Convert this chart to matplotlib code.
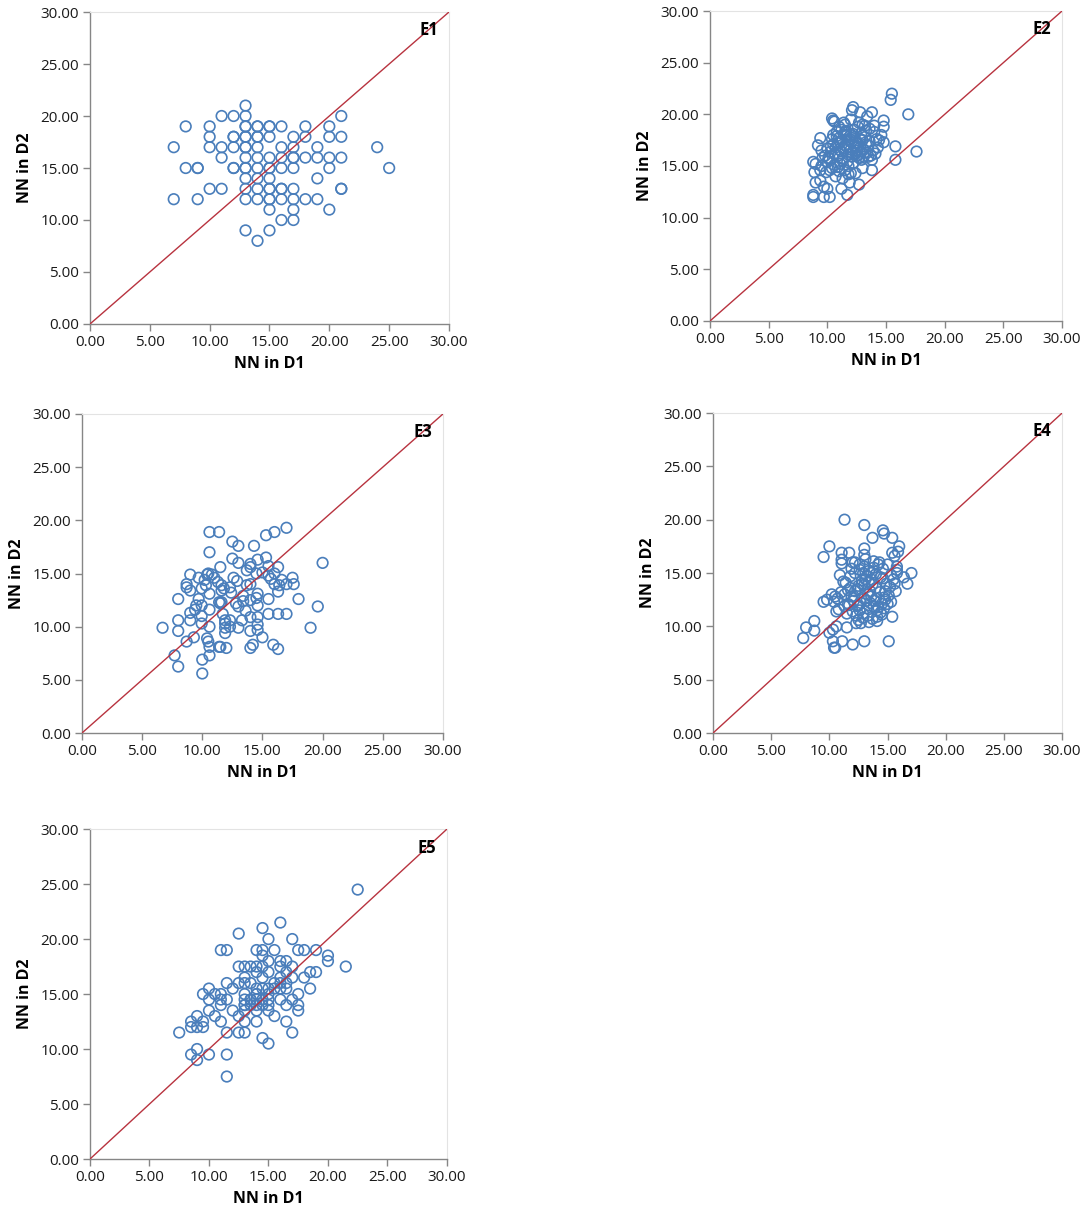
import matplotlib.pyplot as plt
from matplotlib.ticker import MultipleLocator, FormatStrFormatter

# ---- data ----
e1_x = [13,
        11, 12, 13, 21,
        8, 10, 13, 14, 15, 16, 18, 20,
        10, 12, 13, 14, 15, 17, 18, 20, 21,
        7, 10, 11, 12, 13, 14, 16, 17, 19, 24,
        11, 13, 14, 15, 16, 17, 18, 19, 20, 21,
        8, 9, 12, 13, 14, 15, 16, 17, 20, 25,
        13, 14, 15, 19,
        10, 11, 13, 14, 15, 16, 17, 21,
        7, 9, 13, 14, 15, 16, 17, 18, 19,
        15, 17, 20,
        16, 17,
        13, 15,
        14,
        13, 14, 15, 13, 14, 12, 13, 15, 17, 9, 12, 13, 15, 15, 16, 21]
e1_y = [21,
        20, 20, 20, 20,
        19, 19, 19, 19, 19, 19, 19, 19,
        18, 18, 18, 18, 18, 18, 18, 18, 18,
        17, 17, 17, 17, 17, 17, 17, 17, 17, 17,
        16, 16, 16, 16, 16, 16, 16, 16, 16, 16,
        15, 15, 15, 15, 15, 15, 15, 15, 15, 15,
        14, 14, 14, 14,
        13, 13, 13, 13, 13, 13, 13, 13,
        12, 12, 12, 12, 12, 12, 12, 12, 12,
        11, 11, 11,
        10, 10,
        9, 9,
        8,
        19, 19, 19, 18, 18, 18, 17, 13, 16, 15, 15, 15, 15, 12, 13, 13]

e2_x = [15.5, 15.4, 16.9, 17.6, 15.8, 15.8, 13.8, 12.7, 11.7, 11.2,
        8.8, 8.8, 9.7, 10.2, 9.7, 10.0, 9.0, 9.4, 8.9, 9.4,
        9.9, 8.8, 9.0, 9.5, 10.0, 10.4, 10.2, 11.0, 11.5, 11.8,
        12.0, 12.4, 9.2, 9.4, 9.5, 9.8, 10.1, 10.3, 10.5, 10.6,
        10.4, 10.5, 10.8, 10.4, 10.5, 10.6, 11.0, 11.2, 11.5, 11.6,
        12.2, 12.1, 12.8, 13.8, 13.4, 14.8, 14.8, 14.6, 14.8, 14.2,
        14.0, 13.6, 13.2, 13.5, 13.9, 14.3, 13.7, 13.8, 12.0, 11.9,
        12.3, 12.5, 12.6, 13.0, 12.9, 11.8, 11.4, 11.1, 10.9, 11.3,
        11.7, 12.1, 12.4, 12.7, 13.1, 13.3, 12.2, 11.6, 11.0, 10.7,
        11.2, 11.5, 11.9, 12.3, 12.6, 12.9, 13.2, 13.6, 12.0, 11.4,
        10.8, 11.1, 11.8, 12.2, 12.5, 12.8, 13.1, 13.4, 10.9, 11.3,
        11.6, 12.0, 12.4, 12.7, 13.0, 11.0, 11.5, 12.1, 12.6, 10.6,
        10.2, 10.0, 10.7, 11.3, 11.9, 12.9, 13.5, 14.1, 14.4, 13.0,
        12.3, 11.7, 10.3, 9.6, 10.9, 12.1, 12.8, 13.3, 14.0, 12.5]
e2_y = [22.0, 21.4, 20.0, 16.4, 16.9, 15.6, 14.6, 13.2, 12.2, 12.8,
        12.0, 12.2, 12.0, 12.0, 13.0, 12.8, 13.4, 13.6, 14.4, 14.6,
        14.4, 15.4, 15.2, 15.0, 15.4, 14.8, 15.7, 14.5, 14.6, 14.2,
        14.3, 14.3, 17.0, 17.7, 16.5, 16.0, 15.8, 16.4, 17.1, 16.2,
        17.6, 18.0, 18.3, 19.6, 19.4, 19.3, 18.8, 18.5, 19.0, 18.0,
        20.7, 20.4, 20.2, 20.2, 19.8, 19.4, 18.8, 18.0, 17.3, 17.6,
        18.3, 18.6, 18.9, 17.0, 16.5, 16.8, 16.0, 15.6, 16.6, 17.4,
        17.8, 16.9, 17.2, 17.5, 16.4, 16.1, 16.7, 17.3, 16.0, 15.7,
        15.4, 15.9, 16.2, 15.8, 16.6, 17.1, 18.1, 18.4, 17.7, 16.8,
        16.4, 17.0, 17.6, 18.5, 18.8, 18.2, 17.8, 17.4, 19.5, 19.2,
        17.9, 15.2, 15.0, 15.3, 16.5, 16.8, 15.9, 16.3, 14.9, 15.5,
        17.9, 18.0, 17.3, 19.2, 19.0, 16.6, 18.3, 16.3, 16.0, 15.1,
        14.6, 16.7, 14.0, 13.8, 13.4, 15.6, 15.9, 16.2, 17.5, 14.8,
        17.0, 16.8, 16.9, 15.8, 17.2, 17.7, 17.6, 18.4, 18.9, 16.0]

e3_x = [6.7, 7.7, 8.0, 8.0, 8.0, 8.0, 8.7, 8.7, 8.7, 9.0,
        9.0, 9.0, 9.0, 9.3, 9.5, 9.7, 9.7, 9.95, 9.95, 9.95,
        9.95, 10.0, 10.0, 10.2, 10.3, 10.4, 10.5, 10.6, 10.6, 11.4,
        11.5, 10.4, 10.5, 10.6, 10.6, 11.4, 12.0, 11.5, 10.6, 10.6,
        10.6, 11.0, 11.3, 11.6, 11.6, 11.6, 11.7, 11.4, 11.5, 11.9,
        11.9, 11.9, 11.9, 12.3, 12.3, 12.5, 12.5, 13.0, 13.0, 12.6,
        12.9, 12.3, 12.4, 13.0, 13.0, 13.3, 13.4, 13.4, 13.7, 14.0,
        14.0, 14.0, 13.7, 14.3, 14.0, 14.0, 14.2, 14.0, 14.0, 14.5,
        14.5, 14.6, 14.6, 14.6, 14.6, 14.6, 15.0, 14.6, 15.3, 15.3,
        15.5, 15.5, 15.7, 15.5, 15.5, 16.0, 16.0, 16.0, 15.9, 16.3,
        16.3, 16.3, 16.4, 16.3, 17.0, 17.0, 17.0, 17.5, 17.6, 18.0,
        19.0, 19.6, 20.0, 16.6, 10.8, 11.8, 12.8, 13.6, 15.0, 9.4]
e3_y = [9.9, 7.3, 6.25, 12.6, 10.6, 9.6, 14.0, 13.7, 8.6, 14.9,
        13.4, 11.3, 10.6, 9.0, 12.0, 14.6, 12.6, 13.6, 12.0, 11.0,
        10.3, 6.9, 5.6, 14.4, 13.9, 14.9, 15.0, 17.0, 18.9, 18.9,
        15.6, 8.9, 8.6, 8.1, 7.3, 8.1, 8.0, 8.1, 13.1, 11.6,
        10.0, 14.6, 14.2, 13.9, 13.4, 12.3, 11.2, 12.3, 12.2, 10.6,
        10.3, 9.9, 9.4, 10.0, 10.6, 18.0, 16.4, 17.6, 16.0, 14.6,
        14.3, 13.7, 13.2, 11.9, 9.9, 10.6, 12.9, 12.4, 13.9, 14.0,
        15.9, 15.6, 15.3, 17.6, 9.6, 8.0, 8.3, 12.5, 10.9, 15.0,
        12.7, 13.1, 12.0, 10.9, 10.2, 9.7, 9.0, 16.3, 18.6, 16.5,
        15.7, 14.8, 14.5, 12.6, 11.2, 18.9, 15.0, 14.0, 8.3, 7.9,
        15.6, 13.3, 13.9, 11.2, 19.3, 11.2, 14.0, 14.6, 14.0, 12.6,
        9.9, 11.9, 16.0, 14.4, 14.9, 13.6, 12.2, 11.5, 15.1, 11.6]

e4_x = [7.75, 8.0, 8.7, 8.7, 9.5, 9.5, 9.8, 10.0, 10.0, 10.3,
        10.3, 10.4, 10.5, 10.6, 11.05, 11.05, 11.05, 11.1, 11.3, 11.7,
        12.0, 12.0, 13.0, 13.0, 13.0, 13.0, 13.7, 14.6, 14.7, 15.4,
        16.0, 15.9, 15.4, 15.6, 15.8, 15.8, 15.8, 15.1, 15.4, 17.05,
        16.7, 16.4, 15.7, 14.1, 12.3, 11.5, 10.5, 10.4, 10.7, 11.0,
        11.3, 10.8, 11.5, 11.7, 11.8, 12.1, 10.2, 10.9, 11.2, 11.6,
        11.9, 12.2, 12.5, 12.8, 13.1, 13.4, 13.7, 14.0, 14.3, 14.6,
        14.9, 15.2, 12.4, 12.7, 13.0, 13.3, 13.6, 13.9, 14.2, 14.5,
        14.8, 15.1, 15.5, 12.0, 12.3, 12.6, 12.9, 13.2, 13.5, 13.8,
        14.1, 14.4, 14.7, 15.0, 11.4, 11.8, 12.2, 12.6, 13.0, 13.4,
        13.8, 14.2, 14.6, 15.0, 15.3, 12.5, 12.9, 13.3, 13.7, 14.1,
        14.5, 12.8, 13.2, 13.6, 14.0, 14.4, 12.4, 13.0, 13.5, 14.0,
        11.6, 12.1, 12.7, 13.4, 14.8, 15.3, 12.2, 13.1, 13.8, 12.6,
        14.3, 11.9, 13.6, 12.9, 15.6, 10.6, 11.3, 12.5, 14.7, 13.2]
e4_y = [8.9, 9.9, 9.6, 10.5, 16.5, 12.3, 12.5, 17.5, 9.4, 9.7,
        8.6, 8.0, 8.0, 10.0, 16.9, 16.25, 15.9, 8.6, 20.0, 16.9,
        16.0, 8.3, 19.5, 17.3, 16.7, 8.6, 18.3, 19.0, 18.7, 18.3,
        17.5, 17.0, 16.9, 16.6, 15.6, 15.3, 15.0, 8.6, 10.9, 15.0,
        14.0, 14.6, 13.3, 10.5, 10.3, 9.9, 12.8, 12.3, 12.6, 13.2,
        13.0, 11.6, 11.2, 12.0, 13.6, 12.4, 13.0, 14.8, 14.2, 13.4,
        12.8, 13.3, 13.8, 14.0, 14.4, 14.1, 13.9, 13.6, 13.2, 14.5,
        14.0, 13.7, 11.9, 12.2, 12.6, 13.0, 12.8, 12.4, 11.8, 12.1,
        12.5, 12.9, 14.4, 11.4, 11.0, 11.5, 11.2, 11.7, 12.2, 11.9,
        11.5, 11.3, 11.7, 12.1, 14.1, 14.7, 15.0, 15.3, 15.6, 15.2,
        15.5, 15.8, 15.4, 15.8, 14.8, 10.6, 10.8, 11.0, 10.7, 10.9,
        11.1, 14.3, 14.7, 14.4, 14.9, 14.6, 13.5, 13.9, 13.3, 12.6,
        12.1, 12.8, 10.3, 10.4, 13.3, 12.3, 16.0, 16.3, 16.1, 15.8,
        16.0, 15.4, 15.0, 15.0, 14.0, 11.4, 11.9, 12.0, 12.7, 12.4]

e5_x = [22.5, 16.0, 14.5, 12.5, 15.0, 17.0, 11.0, 11.5, 14.0, 14.5,
        15.5, 17.5, 18.0, 19.0, 14.5, 20.0, 20.0, 15.0, 16.0, 16.5,
        21.5, 12.5, 13.0, 13.5, 14.0, 14.5, 16.0, 17.0, 14.0, 15.0,
        16.5, 18.5, 19.0, 13.0, 14.5, 16.0, 17.0, 18.0, 11.5, 12.5,
        13.0, 13.5, 15.5, 16.5, 16.0, 12.0, 14.0, 15.0, 15.5, 16.0,
        16.5, 18.5, 10.0, 9.5, 10.5, 11.0, 13.0, 14.0, 15.0, 17.5,
        10.0, 11.0, 11.5, 13.0, 13.5, 14.0, 14.5, 15.0, 16.0, 17.0,
        11.0, 13.0, 13.5, 14.0, 14.5, 16.5, 17.5, 10.0, 12.0, 13.0,
        14.0, 15.0, 17.5, 10.5, 12.5, 15.5, 9.0, 8.5, 9.5, 11.0,
        13.0, 14.0, 16.5, 8.5, 9.0, 9.5, 7.5, 11.5, 12.5, 13.0,
        17.0, 14.5, 15.0, 9.0, 8.5, 10.0, 11.5, 9.0, 11.5, 13.5,
        14.0, 15.0, 13.0, 14.5]
e5_y = [24.5, 21.5, 21.0, 20.5, 20.0, 20.0, 19.0, 19.0, 19.0, 19.0,
        19.0, 19.0, 19.0, 19.0, 18.5, 18.5, 18.0, 18.0, 18.0, 18.0,
        17.5, 17.5, 17.5, 17.5, 17.5, 17.5, 17.5, 17.5, 17.0, 17.0,
        17.0, 17.0, 17.0, 16.5, 16.5, 16.5, 16.5, 16.5, 16.0, 16.0,
        16.0, 16.0, 16.0, 16.0, 16.0, 15.5, 15.5, 15.5, 15.5, 15.5,
        15.5, 15.5, 15.5, 15.0, 15.0, 15.0, 15.0, 15.0, 15.0, 15.0,
        14.5, 14.5, 14.5, 14.5, 14.5, 14.5, 14.5, 14.5, 14.5, 14.5,
        14.0, 14.0, 14.0, 14.0, 14.0, 14.0, 14.0, 13.5, 13.5, 13.5,
        13.5, 13.5, 13.5, 13.0, 13.0, 13.0, 13.0, 12.5, 12.5, 12.5,
        12.5, 12.5, 12.5, 12.0, 12.0, 12.0, 11.5, 11.5, 11.5, 11.5,
        11.5, 11.0, 10.5, 10.0, 9.5, 9.5, 9.5, 9.0, 7.5, 14.5,
        15.0, 14.0, 14.0, 15.5]

panels = [("E1", e1_x, e1_y, [0.083, 0.7329, 0.3312, 0.2572]),
          ("E2", e2_x, e2_y, [0.655, 0.7354, 0.3247, 0.2555]),
          ("E3", e3_x, e3_y, [0.0756, 0.3957, 0.333, 0.263]),
          ("E4", e4_x, e4_y, [0.6578, 0.3957, 0.322, 0.2638]),
          ("E5", e5_x, e5_y, [0.083, 0.0445, 0.3293, 0.272])]

plt.rcParams['font.family'] = ['Open Sans', 'DejaVu Sans']

fig = plt.figure(figsize=(10.84, 12.13), dpi=100)
axis_grey = '#868686'

for name, xs, ys, rect in panels:
    ax = fig.add_axes(rect)
    ax.plot([0, 30], [0, 30], color='#b8333f', lw=1.0, zorder=3)
    ax.scatter(xs, ys, s=58, facecolors='none', edgecolors='#4a7ebb',
               linewidths=1.2, zorder=2)
    ax.set_xlim(0, 30)
    ax.set_ylim(0, 30)
    ax.xaxis.set_major_locator(MultipleLocator(5))
    ax.yaxis.set_major_locator(MultipleLocator(5))
    ax.xaxis.set_major_formatter(FormatStrFormatter('%.2f'))
    ax.yaxis.set_major_formatter(FormatStrFormatter('%.2f'))
    ax.tick_params(direction='out', length=5, width=1, color=axis_grey,
                   labelsize=11, labelcolor='#1a1a1a', pad=3)
    for side in ['left', 'bottom']:
        ax.spines[side].set_color(axis_grey)
        ax.spines[side].set_linewidth(1.0)
    for side in ['top', 'right']:
        ax.spines[side].set_color('#e3e3e3')
        ax.spines[side].set_linewidth(0.8)
    ax.set_xlabel('NN in D1', fontsize=11.5, fontweight='bold', labelpad=4)
    ax.set_ylabel('NN in D2', fontsize=11.5, fontweight='bold', labelpad=5)
    ax.text(28.3, 28.3, name, fontsize=12, fontweight='bold',
            ha='center', va='center', zorder=4)

fig.savefig('out.png', dpi=100)
